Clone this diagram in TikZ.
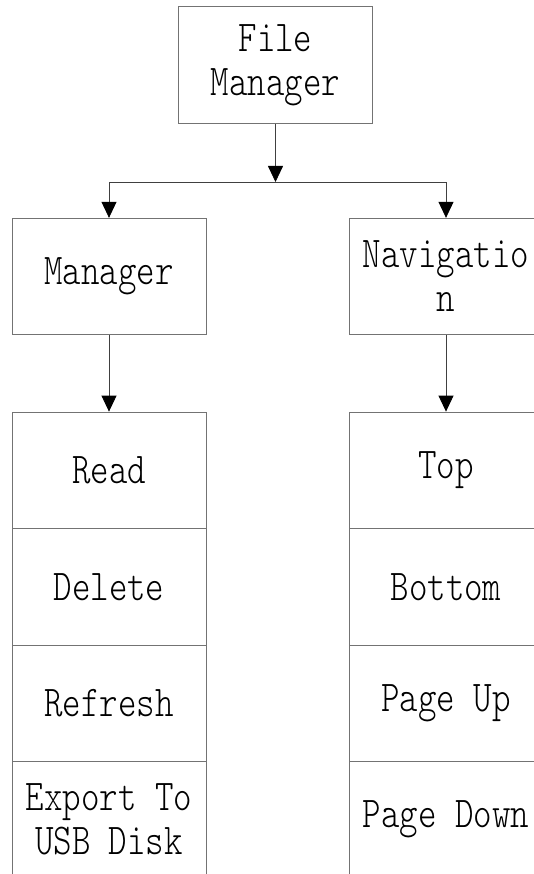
\documentclass[tikz,border=0pt]{standalone}
\usepackage{fontspec}
\usepackage{tikz}
\usetikzlibrary{arrows.meta,positioning}
\newfontfamily\kastenschrift[FakeStretch=0.8]{lmmonolt10-regular.otf}

\begin{document}
\begin{tikzpicture}[x=1pt,y=-1pt,
  kasten/.style={draw=black!55,line width=0.8pt,minimum width=194pt,minimum height=116.5pt,
    inner sep=0pt,align=center,font=\kastenschrift\fontsize{44}{44}\selectfont},
  pfeil/.style={draw=black!75,line width=0.8pt,-{Triangle[length=16pt,width=15pt,fill=black,color=black]}}]
%Seite genau wie das Bild, rechts und unten abgeschnitten
  \useasboundingbox (0,0) rectangle (533,874);
  \pgfmathsetmacro{\hKasten}{116.5}
%Kopf
  \node[kasten] (fm) at (275.5,65) {File\\Manager};
  \coordinate (split) at (275.5,182);
  \node[kasten] (mgr) at (109,276.5) {Manager};
  \node[kasten] (nav) at (446,276.5) {Navigatio\\n};
%Listen
\foreach \txt [count=\i] in {Read,Delete,Refresh,{Export To\\USB Disk}}{
  \node[kasten] (links\i) at (109,412+\hKasten*\i-\hKasten/2) {\txt};
}
\foreach \txt [count=\i] in {Top,Bottom,Page Up,Page Down}{
  \node[kasten] (rechts\i) at (446,412+\hKasten*\i-\hKasten/2) {\txt};
}
  \draw[pfeil] (fm) -- (split);
  \draw[pfeil] (split) -| (mgr);
  \draw[pfeil] (split) -| (nav);
  \draw[pfeil] (mgr) -- (links1);
  \draw[pfeil] (nav) -- (rechts1);
\end{tikzpicture}
\end{document}
